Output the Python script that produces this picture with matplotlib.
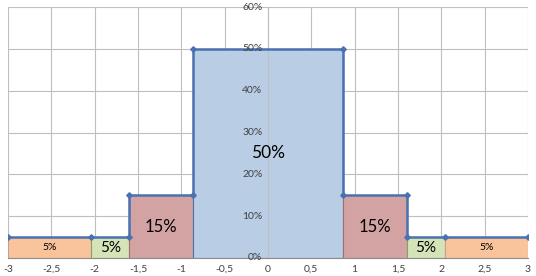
from matplotlib import pyplot as plt
from matplotlib.ticker import FuncFormatter
from matplotlib.transforms import offset_copy

plt.rcParams['font.family'] = ['Lato', 'DejaVu Sans']

# 구간 경계와 높이 (%)
edges = [-3, -2.04, -1.6, -0.86, 0.86, 1.6, 2.04, 3]
heights = [5, 5, 15, 50, 15, 5, 5]
labels = ['5%', '5%', '15%', '50%', '15%', '5%', '5%']
label_sizes = [7.5, 11, 12, 12.5, 12, 11, 7.5]
colors = ['#f9c49b', '#d5e3b8', '#d3a3a4', '#b9cde5', '#d3a3a4', '#d5e3b8', '#f9c49b']
edge_colors = ['#c9a080', '#8aa060', '#a07070', '#4a72b0', '#a07070', '#8aa060', '#c9a080']
y_ticks = [0, 10, 20, 30, 40, 50, 60]

fig = plt.figure(figsize=(5.36, 2.76), dpi=100)
ax = fig.add_axes([8 / 536, 18 / 276, 520 / 536, 251 / 276])

widths = [edges[i + 1] - edges[i] for i in range(len(heights))]
ax.bar(edges[:-1], heights, width=widths, align='edge', color=colors,
       edgecolor=edge_colors, linewidth=0.8, zorder=2)

# 윤곽선 (계단)
xs, ys = [edges[0]], [heights[0]]
for i in range(len(heights)):
    if i > 0 and heights[i] != heights[i - 1]:
        xs.append(edges[i])
        ys.append(heights[i])
    xs.append(edges[i + 1])
    ys.append(heights[i])
ax.plot(xs, ys, color='#4a72b0', linewidth=1.8, marker='D', markersize=2.8, zorder=4)

for i, (lab, h) in enumerate(zip(labels, heights)):
    cx = (edges[i] + edges[i + 1]) / 2
    ax.text(cx, h / 2, lab, ha='center', va='center', fontsize=label_sizes[i],
            color='black', zorder=5)

ax.set_xlim(-3, 3)
ax.set_ylim(0, 60)
ax.set_xticks([x / 2 for x in range(-6, 7)])
ax.set_yticks(y_ticks)
ax.xaxis.set_major_formatter(FuncFormatter(lambda v, p: ('%g' % v).replace('.', ',')))
ax.set_yticklabels([])
ax.grid(True, color='#bfbfbf', linewidth=0.8, zorder=0)
ax.set_axisbelow(True)

# y축 눈금 라벨 (막대 위에 보이도록 텍스트로)
tr = offset_copy(ax.transData, fig=fig, x=-4, y=0, units='points')
for v in y_ticks:
    ax.text(0, v, '%d%%' % v, transform=tr, ha='right', va='center',
            fontsize=7.5, color='#404040', zorder=6, clip_on=False)

ax.spines['left'].set_position(('data', 0))
ax.spines['left'].set_color('#bfbfbf')
ax.spines['bottom'].set_color('#8c8c8c')
ax.spines['top'].set_visible(False)
ax.spines['right'].set_visible(False)
ax.tick_params(axis='both', length=0, labelsize=7.5, colors='#404040')
ax.tick_params(axis='x', pad=5)

fig.savefig('out.png', dpi=100)
